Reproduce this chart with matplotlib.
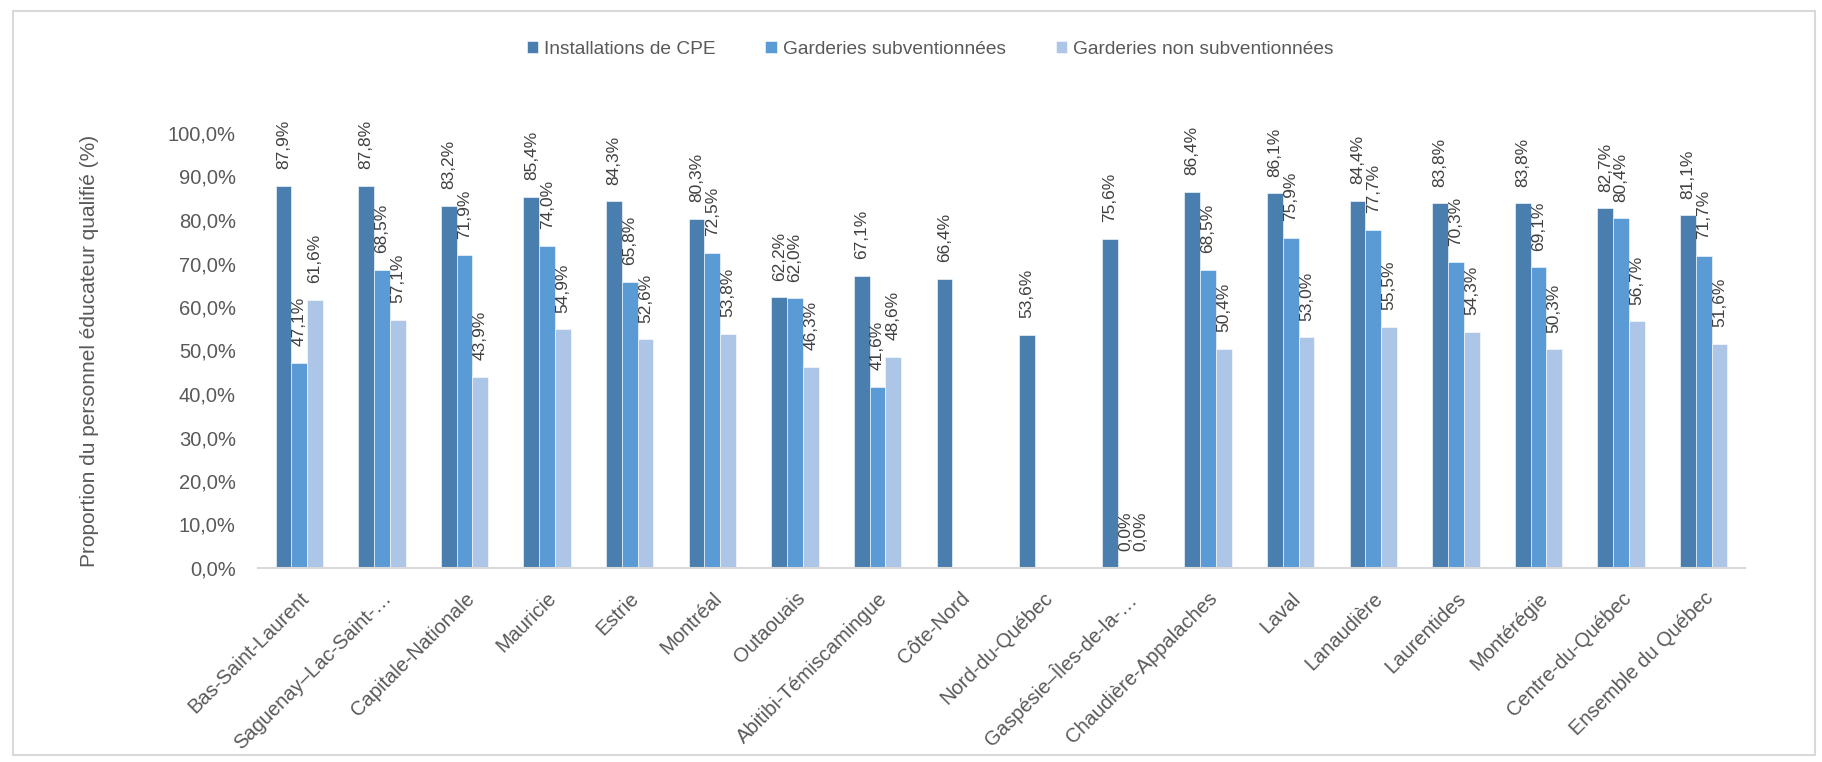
import matplotlib
matplotlib.use("Agg")
import matplotlib.pyplot as plt
import matplotlib.patches as mpatches
import numpy as np

plt.rcParams['font.family'] = ['Liberation Sans', 'DejaVu Sans']

REGIONS = ['Bas-Saint-Laurent', 'Saguenay–Lac-Saint-…', 'Capitale-Nationale', 'Mauricie',
           'Estrie', 'Montréal', 'Outaouais', 'Abitibi-Témiscamingue', 'Côte-Nord',
           'Nord-du-Québec', 'Gaspésie–Îles-de-la-…', 'Chaudière-Appalaches', 'Laval',
           'Lanaudière', 'Laurentides', 'Montérégie', 'Centre-du-Québec', 'Ensemble du Québec']

cpe = [87.9, 87.8, 83.2, 85.4, 84.3, 80.3, 62.2, 67.1, 66.4, 53.6, 75.6,
       86.4, 86.1, 84.4, 83.8, 83.8, 82.7, 81.1]
subv = [47.1, 68.5, 71.9, 74.0, 65.8, 72.5, 62.0, 41.6, np.nan, np.nan, 0.0,
        68.5, 75.9, 77.7, 70.3, 69.1, 80.4, 71.7]
non_subv = [61.6, 57.1, 43.9, 54.9, 52.6, 53.8, 46.3, 48.6, np.nan, np.nan, 0.0,
            50.4, 53.0, 55.5, 54.3, 50.3, 56.7, 51.6]

SERIES = ['Installations de CPE', 'Garderies subventionnées', 'Garderies non subventionnées']
COLORS = ['#4A7EAF', '#5B9BD5', '#ADC5E6']
TXT = '#595959'

fig = plt.figure(figsize=(18.22, 7.62), dpi=100)
ax = fig.add_axes([258/1822, 1-568/762, 1487/1822, 435/762])

x = np.arange(len(REGIONS))
w = 0.191
handles = []
for i, (vals, col, name) in enumerate(zip([cpe, subv, non_subv], COLORS, SERIES)):
    pos = x + (i - 1) * w
    bars = ax.bar(pos, vals, w, color=col, edgecolor='white', linewidth=0.4, label=name)
    handles.append(bars)
    for p, v in zip(pos, vals):
        if np.isnan(v):
            continue
        ax.annotate(('%.1f%%' % v).replace('.', ','), (p, v), xytext=(0, 12),
                    textcoords='offset points', rotation=90, ha='center', va='bottom',
                    fontsize=12.5, color='#404040')

ax.set_xlim(-0.5, len(REGIONS) - 0.5)
ax.set_ylim(0, 100)
ax.set_yticks(np.arange(0, 101, 10))
ax.set_yticklabels([('%.1f%%' % t).replace('.', ',') for t in np.arange(0, 101, 10)])
ax.set_xticks(x)
ax.set_xticklabels(REGIONS, rotation=45, ha='right', rotation_mode='anchor')
ax.tick_params(axis='both', length=0, labelsize=14.5, labelcolor=TXT)
ax.tick_params(axis='x', pad=15)
ax.tick_params(axis='y', pad=16)
for s in ['top', 'right', 'left']:
    ax.spines[s].set_visible(False)
ax.spines['bottom'].set_color('#d9d9d9')
ax.spines['bottom'].set_linewidth(1.5)

ax.set_ylabel('Proportion du personnel éducateur qualifié (%)', fontsize=15, color=TXT)
ax.yaxis.set_label_coords((99 - 258) / 1487, 0.5)

fig.legend(handles, SERIES, loc='center', bbox_to_anchor=(930/1822, 1-49/762), ncol=3,
           frameon=False, fontsize=13.8, labelcolor=TXT, handlelength=0.6, handleheight=0.6,
           handletextpad=0.3, columnspacing=2.6)

fig.patches.append(mpatches.Rectangle((13/1822, 7/762), 1802/1822, 744/762, transform=fig.transFigure,
                                      fill=False, edgecolor='#d9d9d9', linewidth=1.5))

fig.savefig('out.png', dpi=100)
